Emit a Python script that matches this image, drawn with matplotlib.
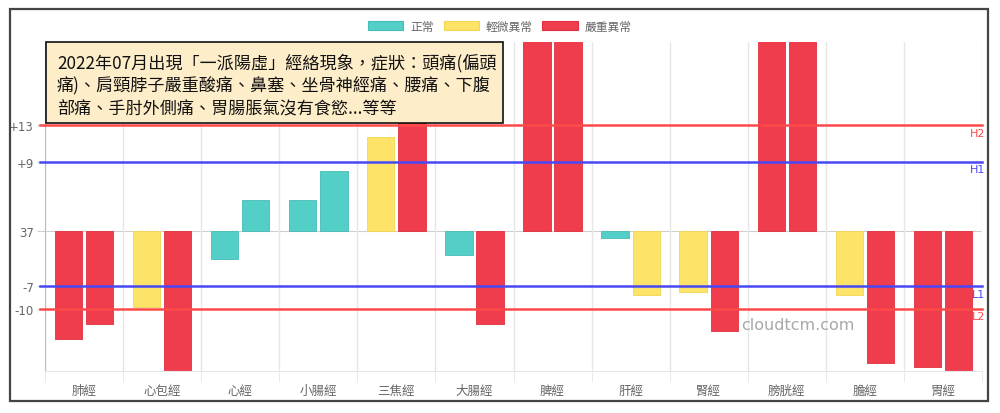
import matplotlib.pyplot as plt
from matplotlib.patches import Patch, Rectangle
import numpy as np

plt.rcParams['font.family'] = ['Noto Sans CJK TC', 'DejaVu Sans']

# 經絡名稱
meridians = ['肺經', '心包經', '心經', '小腸經', '三焦經', '大腸經',
             '脾經', '肝經', '腎經', '膀胱經', '膽經', '胃經']

# 左 / 右 偏離 37 的數值 (估計值)
left_vals = [-13.5, -9.6, -3.6, 3.9, 11.7, -3.1, 25, -0.9, -7.7, 25, -8.1, -17.1]
right_vals = [-11.7, -18, 3.9, 7.5, 20, -11.7, 25, -8.1, -12.5, 25, -16.6, -18]

# 0 正常, 1 輕微異常, 2 嚴重異常
left_status = [2, 1, 0, 0, 1, 0, 2, 0, 1, 2, 1, 2]
right_status = [2, 2, 0, 0, 2, 2, 2, 1, 2, 2, 2, 2]

status_names = ['正常', '輕微異常', '嚴重異常']
status_colors = ['#54CFC7', '#FDE468', '#EF3D4D']
status_edges = ['#45BDB5', '#F2D655', '#E02F40']

# 參考線
ref_names = ['H2', 'H1', 'L1', 'L2']
ref_levels = [13.2, 8.6, -6.95, -9.8]
ref_colors = ['#FF4A4A', '#4848F5', '#4848F5', '#FF4A4A']

ytick_levels = [13.2, 8.6, 0, -6.95, -9.8]
ytick_labels = ['+13', '+9', '37', '-7', '-10']

note_lines = ['2022年07月出現「一派陽虛」經絡現象，症狀：頭痛(偏頭',
              '痛)、肩頸脖子嚴重酸痛、鼻塞、坐骨神經痛、腰痛、下腹',
              '部痛、手肘外側痛、胃腸脹氣沒有食慾...等等']

W, H = 1000, 414
fig = plt.figure(figsize=(10, 4.14), dpi=100)
ax = fig.add_axes([45 / W, 1 - 372 / H, (982 - 45) / W, (372 - 43) / H])

x = np.arange(len(meridians))
ax.bar(x - 0.2, left_vals, width=0.35,
       color=[status_colors[s] for s in left_status],
       edgecolor=[status_edges[s] for s in left_status], linewidth=0.6, zorder=2)
ax.bar(x + 0.2, right_vals, width=0.35,
       color=[status_colors[s] for s in right_status],
       edgecolor=[status_edges[s] for s in right_status], linewidth=0.6, zorder=2)

ax.set_xlim(-0.5, len(meridians) - 0.5)
ax.set_ylim(-17.54, 23.59)

ax.axhline(0, color='#CFCFCF', lw=0.8, zorder=1)
for name, lev, col in zip(ref_names, ref_levels, ref_colors):
    ax.plot([-0.5 - 0.065, len(meridians) - 0.5], [lev, lev], color=col,
            lw=1.8, clip_on=False, zorder=3)
    ax.text(len(meridians) - 0.5 + 0.04, lev - 0.3, name, color=col, fontsize=8,
            ha='right', va='top', family='DejaVu Sans', zorder=5)

ax.set_xticks(x)
ax.set_xticklabels(meridians, fontsize=9, color='#666666')
ax.set_xticks(np.arange(-0.5, len(meridians)), minor=True)
ax.tick_params(axis='x', which='major', length=0, pad=9)
ax.tick_params(axis='x', which='minor', length=8, color='#E6E6E6')
ax.grid(axis='x', which='minor', color='#E6E6E6', lw=1, zorder=0)

ax.set_yticks(ytick_levels)
ax.set_yticklabels(ytick_labels, fontsize=8.5, color='#666666', family='DejaVu Sans')
ax.tick_params(axis='y', length=6, color='#CFCFCF', pad=2)

for s in ['top', 'right']:
    ax.spines[s].set_visible(False)
ax.spines['left'].set_color('#BBBBBB')
ax.spines['bottom'].set_color('#E6E6E6')

# 圖例
handles = [Patch(facecolor=c, edgecolor=e, linewidth=0.8, label=n)
           for n, c, e in zip(status_names, status_colors, status_edges)]
fig.legend(handles=handles, loc='center', bbox_to_anchor=(0.5, 1 - 27 / H),
           ncol=3, frameon=False, fontsize=8.5, handlelength=3.0,
           handleheight=0.9, handletextpad=0.6, columnspacing=0.8,
           labelcolor='#666666')

# 說明框
fig.patches.append(Rectangle((46 / W, 1 - 124 / H), (503 - 46) / W, 81 / H,
                             transform=fig.transFigure, facecolor='#FDEDC8',
                             edgecolor='#111111', lw=1.2, zorder=5))
for i, line in enumerate(note_lines):
    fig.text(57 / W, 1 - (63 + 23 * i) / H, line, fontsize=12.3, color='#111111',
             ha='left', va='center', zorder=6)

fig.text(798 / W, 1 - 325 / H, 'cloudtcm.com', fontsize=11.5, color='#A8A8A8',
         ha='center', va='center', family='DejaVu Sans')

# 外框
fig.patches.append(Rectangle((10 / W, 1 - 402 / H), 978 / W, 392 / H,
                             transform=fig.transFigure, fill=False,
                             edgecolor='#444444', lw=1.6))

fig.savefig('out.png', dpi=100)
